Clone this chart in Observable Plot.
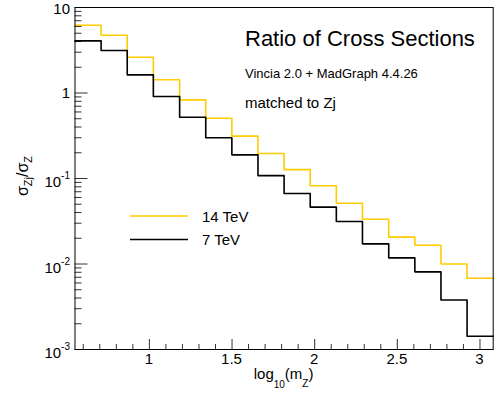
<!DOCTYPE html>
<html><head><meta charset="utf-8">
<script src="https://cdn.jsdelivr.net/npm/d3@7"></script>
<script src="https://cdn.jsdelivr.net/npm/@observablehq/plot@0.6"></script>
<style>
body{margin:0;background:#fff;}
#chart{width:498px;height:397px;}
</style>
</head><body><div id="chart"></div>
<script>
// ---- data ----
const binLow = [0.55, 0.708, 0.866, 1.024, 1.183, 1.341, 1.499, 1.657, 1.815, 1.973, 2.131, 2.289, 2.448, 2.606, 2.764, 2.922];
const binHigh = 3.08;
const ratio14 = [6.2, 4.74, 2.62, 1.43, 0.83, 0.507, 0.313, 0.196, 0.127, 0.0822, 0.0514, 0.0334, 0.0206, 0.0166, 0.0100, 0.0068];
const ratio7  = [4.07, 3.14, 1.63, 0.91, 0.52, 0.30, 0.189, 0.108, 0.0668, 0.0462, 0.0314, 0.0172, 0.0118, 0.0081, 0.0038, 0.00143];
const seriesNames = ["14 TeV", "7 TeV"];
const seriesColors = ["#ffcc00", "#000000"];
const xTicks = [1, 1.5, 2, 2.5, 3];
const xTickLabels = ["1", "1.5", "2", "2.5", "3"];
const yTicks = [0.001, 0.01, 0.1, 1, 10];
const yTickBase = ["10", "10", "10", "1", "10"];
const yTickExp = ["-3", "-2", "-1", "", ""];
const titleText = "Ratio of Cross Sections";
const subText1 = "Vincia 2.0 + MadGraph 4.4.26";
const subText2 = "matched to Zj";

const xMinor = d3.range(6, 31).map(d => d / 10).filter(d => !xTicks.some(t => Math.abs(t - d) < 1e-9));
const yMinor = [];
[0.001, 0.01, 0.1, 1].forEach(dec => { for (let k = 2; k <= 9; k++) yMinor.push(dec * k); });

const rows = [];
[ratio14, ratio7].forEach((vals, si) => {
  binLow.forEach((x, i) => rows.push({s: seriesNames[si], x, y: vals[i]}));
  rows.push({s: seriesNames[si], x: binHigh, y: vals[vals.length - 1]});
});

const W = 498, H = 397, ML = 74.5, MR = 5.3, MT = 7, MB = 48;
const FW = W - ML - MR, FH = H - MT - MB;
const FONT = "'Liberation Sans', Arial, Helvetica, sans-serif";
const plot = Plot.plot({
  width: W, height: H,
  marginLeft: ML, marginRight: MR, marginTop: MT, marginBottom: MB,
  x: {domain: [0.55, binHigh], label: null, axis: null},
  y: {type: "log", domain: [0.001, 10], label: null, axis: null},
  color: {domain: seriesNames, range: seriesColors},
  style: {fontFamily: FONT, fontSize: "15px", background: "#fff", color: "#000"},
  marks: [
    Plot.tickX(xTicks, {x: d => d, insetTop: FH - 10, stroke: "#333"}),
    Plot.tickX(xMinor, {x: d => d, insetTop: FH - 5, stroke: "#333"}),
    Plot.tickY(yTicks, {y: d => d, insetRight: FW - 13, stroke: "#333"}),
    Plot.tickY(yMinor, {y: d => d, insetRight: FW - 7, stroke: "#333"}),
    Plot.line(rows, {x: "x", y: "y", z: "s", stroke: "s", curve: "step-after", strokeWidth: 1.6}),
    Plot.frame({stroke: "#000", strokeWidth: 1})
  ]
});
document.getElementById("chart").appendChild(plot);

const svg = d3.select(plot);
const xs = plot.scale("x"), ys = plot.scale("y");
const g = svg.append("g").attr("font-family", FONT).attr("fill", "#000").attr("text-anchor", "start");

// x tick labels
xTicks.forEach((t, i) => {
  g.append("text").attr("x", xs.apply(t)).attr("y", 364).attr("text-anchor", "middle")
    .attr("font-size", 15).text(xTickLabels[i]);
});
// y tick labels
yTicks.forEach((t, i) => {
  const y = ys.apply(t);
  const txt = g.append("text").attr("text-anchor", "end").attr("font-size", 15);
  if (yTickExp[i]) {
    txt.attr("x", 70).attr("y", y + 9);
    txt.append("tspan").text(yTickBase[i]);
    txt.append("tspan").attr("font-size", 10).attr("dy", -8).text(yTickExp[i]);
  } else {
    txt.attr("x", 70).attr("y", y + (t === 10 ? 7 : 5.5)).text(yTickBase[i]);
  }
});
// x axis title log10(mZ)
{
  const t = g.append("text").attr("x", 283.6).attr("y", 379).attr("text-anchor", "middle").attr("font-size", 15);
  t.append("tspan").text("log");
  t.append("tspan").attr("font-size", 10).attr("dy", 9).text("10");
  t.append("tspan").attr("dy", -9).text("(m");
  t.append("tspan").attr("font-size", 10).attr("dy", 8).text("Z");
  t.append("tspan").attr("dy", -8).text(")");
}
// y axis title
{
  const t = g.append("text").attr("transform", "translate(28,176) rotate(-90)").attr("text-anchor", "middle").attr("font-size", 16);
  t.append("tspan").text("σ");
  t.append("tspan").attr("font-size", 11).attr("dy", 4).text("Zj");
  t.append("tspan").attr("dy", -4).text("/σ");
  t.append("tspan").attr("font-size", 11).attr("dy", 4).text("Z");
}
// title block
g.append("text").attr("x", 245).attr("y", 46).attr("text-anchor", "start").attr("font-size", 22).text(titleText);
g.append("text").attr("x", 245).attr("y", 78).attr("text-anchor", "start").attr("font-size", 13).text(subText1);
g.append("text").attr("x", 245).attr("y", 108).attr("text-anchor", "start").attr("font-size", 15).text(subText2);
// legend
const legY = [216, 239.5];
seriesNames.forEach((name, i) => {
  g.append("line").attr("x1", 130).attr("x2", 188).attr("y1", legY[i]).attr("y2", legY[i])
    .attr("stroke", plot.scale("color").apply(name)).attr("stroke-width", 1.6);
  g.append("text").attr("x", 202).attr("y", legY[i] + 5.5).attr("text-anchor", "start").attr("font-size", 15).text(name);
});
</script>
</body></html>
